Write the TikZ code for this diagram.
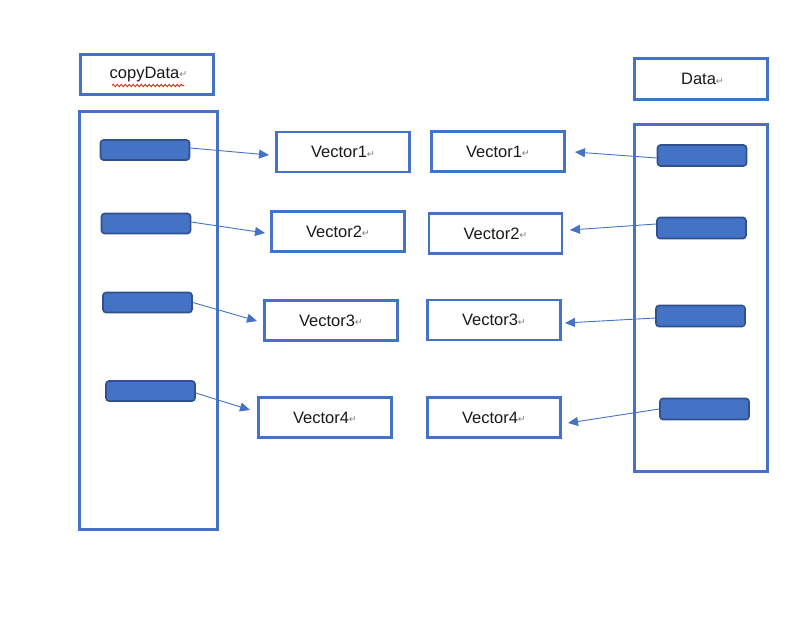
\documentclass[tikz,border=0pt]{standalone}
\usepackage{fontspec}
\setmainfont{Liberation Sans}
\newfontfamily\markfont{DejaVu Sans}
\usetikzlibrary{arrows.meta,decorations.pathmorphing}
\definecolor{wblue}{HTML}{4472C4}
\definecolor{wdark}{HTML}{2F528F}
\newcommand{\pmark}{{\markfont\fontsize{9.5}{9.5}\selectfont\color{gray}\raisebox{0.5pt}{↵}}}
\tikzset{
  box/.style={draw=wblue, line width=2.4pt, fill=white, inner sep=0pt,
    font=\fontsize{16.5}{18}\selectfont, text=black!90},
  vbox/.style={box, minimum width=133pt, minimum height=40pt},
  bar/.style={draw=wdark, line width=1.6pt, fill=wblue, rounded corners=3pt,
    minimum width=89pt, minimum height=20pt, inner sep=0pt},
  arr/.style={draw=wblue, line width=0.9pt, -{Triangle[length=10pt,width=9pt]}},
  squig/.style={draw=red, line width=0.7pt, decorate,
    decoration={snake, segment length=4pt, amplitude=1.3pt}}
}
\begin{document}
\begin{tikzpicture}[x=1pt,y=-1pt]
\useasboundingbox (0,0) rectangle (812,637);
% headers
\node[box, minimum width=133pt, minimum height=40pt] (hcopy) at (147,74.5) {\hspace*{3pt}copyData\pmark};
\node[box, minimum width=133pt, minimum height=41pt] (hdata) at (701,79) {\hspace*{3pt}Data\pmark};
% containers
\node[box, minimum width=138pt, minimum height=418pt] (cl) at (148.5,320.5) {};
\node[box, minimum width=133pt, minimum height=347pt] (cr) at (701,298) {};
% spell-check underline
\coordinate (s1) at (112,85.5);
\coordinate (s2) at (184,85.5);
\draw[squig] (s1) -- (s2);
% left bars
\node[bar] (l1) at (145,150) {};
\node[bar] (l2) at (146,223.5) {};
\node[bar] (l3) at (147.5,302.5) {};
\node[bar] (l4) at (150.5,391) {};
% right bars
\node[bar, minimum height=21pt] (r1) at (702,155.5) {};
\node[bar, minimum height=21pt] (r2) at (701.5,228) {};
\node[bar, minimum height=21pt] (r3) at (700.5,316) {};
\node[bar, minimum height=21pt] (r4) at (704.5,409) {};
% left vectors
\node[vbox] (a1) at (343,152) {Vector1\pmark};
\node[vbox] (a2) at (338,231.5) {Vector2\pmark};
\node[vbox] (a3) at (331,320.5) {Vector3\pmark};
\node[vbox] (a4) at (325,417.5) {Vector4\pmark};
% right vectors
\node[vbox] (b1) at (498,151.5) {Vector1\pmark};
\node[vbox] (b2) at (495.5,233.5) {Vector2\pmark};
\node[vbox] (b3) at (494,320) {Vector3\pmark};
\node[vbox] (b4) at (494,417.5) {Vector4\pmark};
% arrow tips
\coordinate (ta1) at (269,155);
\coordinate (ta2) at (265,233);
\coordinate (ta3) at (257,321);
\coordinate (ta4) at (250,410);
\coordinate (tb1) at (575,152);
\coordinate (tb2) at (570,230);
\coordinate (tb3) at (565,323);
\coordinate (tb4) at (568,423);
% arrows
\draw[arr] ([yshift=2pt]l1.east) -- (ta1);
\draw[arr] ([yshift=1.5pt]l2.east) -- (ta2);
\draw[arr] (l3.east) -- (ta3);
\draw[arr] ([yshift=-2pt]l4.east) -- (ta4);
\draw[arr] ([yshift=-2.5pt]r1.west) -- (tb1);
\draw[arr] ([yshift=4pt]r2.west) -- (tb2);
\draw[arr] ([yshift=-2pt]r3.west) -- (tb3);
\draw[arr] (r4.west) -- (tb4);
\end{tikzpicture}
\end{document}
